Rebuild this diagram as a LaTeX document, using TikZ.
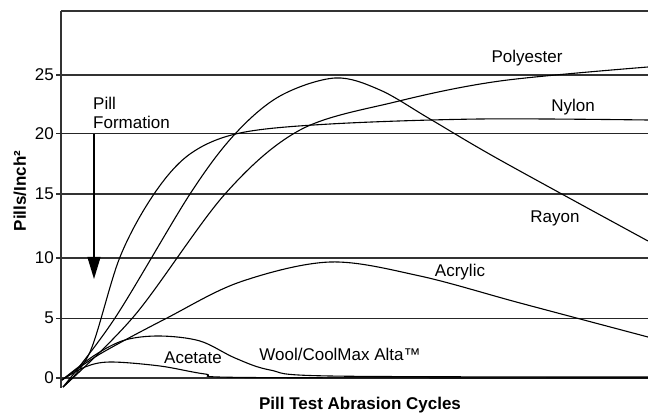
\documentclass[tikz,border=0pt]{standalone}
\usepackage{fontspec}
\setmainfont{Liberation Sans}
\usetikzlibrary{arrows.meta}
\begin{document}
\begin{tikzpicture}[x=1pt,y=-1pt,
  gridthick/.style={line width=1.6pt,draw=black!80},
  gridthin/.style={line width=1pt,draw=black!85},
  curve/.style={line width=1.1pt,draw=black,smooth,tension=0.55},
  lbl/.style={inner sep=0pt,font=\fontsize{17}{19}\selectfont},
  tlbl/.style={inner sep=0pt,anchor=east,font=\fontsize{17}{19}\selectfont},
  axtitle/.style={inner sep=0pt,font=\fontsize{17}{19}\selectfont\bfseries}]
\useasboundingbox (0,0) rectangle (648,414);
% frame and grid
\draw[gridthick] (61,11) -- (648,11);
\draw[gridthick] (61,11) -- (61,388);
\draw[gridthick] (56,75) -- (648,75);
\draw[gridthin] (56,134) -- (648,134);
\draw[gridthick] (56,194) -- (648,194);
\draw[gridthick] (56,258) -- (648,258);
\draw[gridthin] (56,318) -- (648,318);
\draw[gridthick] (56,378) -- (648,378);
% tick labels
\node[tlbl] (t25) at (54,75) {25};
\node[tlbl] (t20) at (54,134) {20};
\node[tlbl] (t15) at (54,194) {15};
\node[tlbl] (t10) at (54,258) {10};
\node[tlbl] (t5) at (54,318) {5};
\node[tlbl] (t0) at (54,378) {0};
% axis titles
\node[axtitle,rotate=90] (ytitle) at (20,191) {Pills/Inch²};
\node[axtitle] (xtitle) at (360,405) {Pill Test Abrasion Cycles};
% Nylon
\draw[curve] plot coordinates {(63,387) (90,352) (120,257) (154,194) (190,154) (240,133) (330,124) (480,119) (648,120)};
% Rayon
\draw[curve] plot coordinates {(63,387) (115,318) (190,194) (235,134) (280,96) (335,78) (380,90) (430,119) (500,160) (648,241)};
% Polyester
\draw[curve] plot coordinates {(63,387) (135,315) (225,194) (300,130) (395,102) (500,81) (648,67)};
% Acrylic
\draw[curve] plot coordinates {(62,380) (100,354) (167,318) (240,282) (330,262) (420,276) (520,303) (648,337)};
% upper hump
\draw[curve] plot coordinates {(62,380) (95,355) (125,340) (160,336) (200,341) (235,358) (270,370) (330,376) (648,377)};
% lower hump
\draw[curve] plot coordinates {(62,380) (85,367) (110,362) (160,366) (205,374) (250,377.5) (648,378)};
% curve labels
\node[lbl] (polyester) at (527,58) {Polyester};
\node[lbl] (nylon) at (573,107) {Nylon};
\node[lbl] (rayon) at (555,218) {Rayon};
\node[lbl] (acrylic) at (460,272) {Acrylic};
\node[lbl] (acetate) at (193,358) {Acetate};
\node[lbl] (wool) at (340,354) {Wool/CoolMax Alta™};
% pill formation
\node[lbl,anchor=west,align=left] (pill) at (93,113) {Pill\\Formation};
\coordinate (pfs) at (94,134);
\coordinate (pfe) at (94,279);
\draw[line width=1.3pt,-{Triangle[width=13pt,length=22pt]}] (pfs) -- (pfe);
\end{tikzpicture}
\end{document}
